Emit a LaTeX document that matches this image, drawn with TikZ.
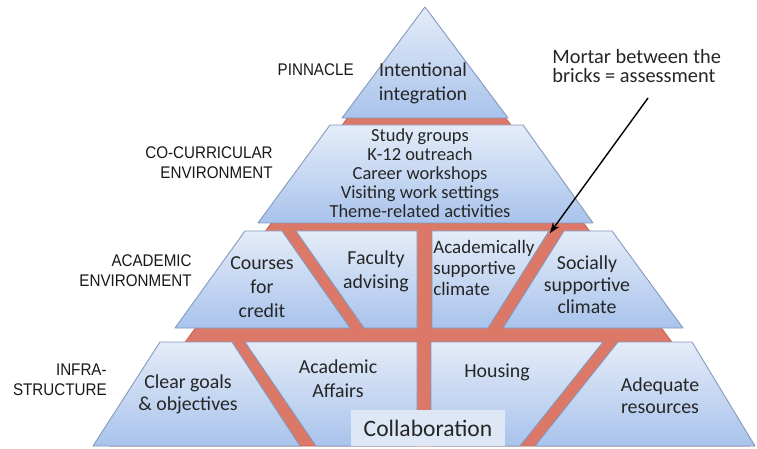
\documentclass[tikz,border=0pt]{standalone}
\usepackage{fontspec}
\setmainfont{Carlito}
\newfontfamily\lblfont[FakeStretch=0.9]{Liberation Sans}
\usetikzlibrary{arrows.meta}

\definecolor{brickTop}{HTML}{E4ECF8}
\definecolor{brickBot}{HTML}{A9C3EC}
\definecolor{brickLine}{HTML}{8299BD}
\definecolor{mortarRed}{HTML}{DB7868}
\definecolor{mortarLine}{HTML}{C25B4C}
\definecolor{collabFill}{HTML}{DDE7F5}

\begin{document}
\begin{tikzpicture}[x=0.02cm, y=-0.02cm,
	brick/.style={top color=brickTop, bottom color=brickBot, draw=brickLine, line width=0.5pt, line join=round},
	mortar/.style={fill=mortarRed, draw=mortarLine, line width=0.4pt},
	lvl/.style={font=\lblfont\fontsize{9.6}{11.3}\selectfont, align=right, anchor=east, text=black!90, inner sep=0pt},
	txt/.style={font=\fontsize{11.3}{13.6}\selectfont, align=center, text=black!85, inner sep=0pt}]
	
	\fill [white] (0,0) rectangle (757,449);
	\useasboundingbox (0,0) rectangle (757,449);
	
	% mortar behind the bricks
	\draw [mortar] (348,117) -- (505,117) -- (749,446) -- (110,446) -- cycle;
	
	% pinnacle and co-curricular layer
	\draw [brick] (425,7) -- (508,118) -- (342,118) -- cycle;
	\draw [brick] (330,125) -- (523,125) -- (593,223) -- (258,223) -- cycle;
	
	% academic layer
	\draw [brick] (245,231) -- (282,231) -- (350,328) -- (175,328) -- cycle;
	\draw [brick] (296,231) -- (417,231) -- (417,328) -- (364,328) -- cycle;
	\draw [brick] (432,231) -- (549,231) -- (488,328) -- (432,328) -- cycle;
	\draw [brick] (564,231) -- (612,231) -- (683,328) -- (503,328) -- cycle;
	
	% infrastructure layer
	\draw [brick] (160,342) -- (232,342) -- (300,446) -- (93,446) -- cycle;
	\draw [brick] (245,342) -- (417,342) -- (417,446) -- (316,446) -- cycle;
	\draw [brick] (431,342) -- (603,342) -- (520,446) -- (431,446) -- cycle;
	\draw [brick] (618,342) -- (692,342) -- (755,446) -- (535,446) -- cycle;
	
	% level names
	\node [lvl] (pinnacleLbl) at (354,70) {PINNACLE};
	\node [lvl] (cocurLbl) at (273,163) {CO-CURRICULAR\\ENVIRONMENT};
	\node [lvl] (acadLbl) at (192,271) {ACADEMIC\\ENVIRONMENT};
	\node [lvl] (infraLbl) at (107,380) {INFRA-\\STRUCTURE};
	
	% brick texts
	\node [txt] (integ) at (423,83) {Intentional\\integration};
	\node [txt, font=\fontsize{10.5}{10.8}\selectfont] (cocurList) at (420,173) {Study groups\\K-12 outreach\\Career workshops\\Visiting work settings\\Theme-related activities};
	\node [txt] (courses) at (262,287) {Courses\\for\\credit};
	\node [txt] (faculty) at (376,271) {Faculty\\advising};
	\node [txt, align=left, anchor=west, font=\fontsize{10.8}{12}\selectfont] (acadClim) at (433,268) {Academically\\supportive\\climate};
	\node [txt, font=\fontsize{11.3}{12.5}\selectfont] (socClim) at (587,285) {Socially\\supportive\\climate};
	\node [txt, font=\fontsize{11.3}{12.5}\selectfont] (goals) at (188,394) {Clear goals\\\& objectives};
	\node [txt] (affairs) at (338,379) {Academic\\Affairs};
	\node [txt] (housing) at (497,372) {Housing};
	\node [txt, font=\fontsize{11.3}{12.5}\selectfont] (resources) at (660,396) {Adequate\\resources};
	\node [txt, fill=collabFill, minimum width=3.1cm, minimum height=0.72cm, font=\fontsize{13.4}{15}\selectfont] (collab) at (428,428) {Collaboration};
	
	% note and arrow
	\node [txt, align=left, anchor=west, font=\fontsize{11.6}{10.4}\selectfont] (mortarNote) at (552,66) {Mortar between the\\bricks = assessment};
	\coordinate (arrowTail) at (648,98);
	\coordinate (arrowTip) at (550,233);
	\draw [thick, -{Stealth[length=6pt]}] (arrowTail) -- (arrowTip);
	
\end{tikzpicture}
\end{document}
